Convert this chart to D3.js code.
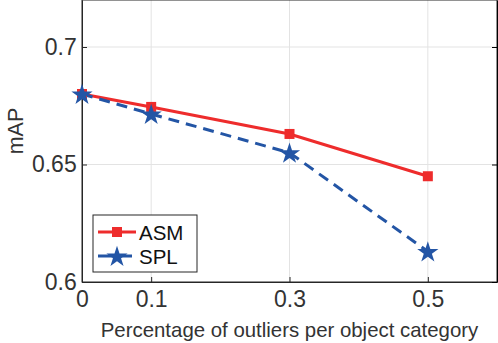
<!DOCTYPE html>
<html>
<head>
<meta charset="utf-8">
<script src="https://cdn.jsdelivr.net/npm/d3@7"></script>
<style>
  body { margin: 0; background: #fff; }
  text { font-family: "Liberation Sans", Arial, sans-serif; }
</style>
</head>
<body>
<div id="chart"></div>
<script>
// outlier ratio along x
var outlierRatio = [0, 0.1, 0.3, 0.5];
var asmValues = [0.680, 0.6745, 0.663, 0.645];
var splValues = [0.680, 0.6715, 0.655, 0.613];
var xTicks = [0, 0.1, 0.3, 0.5];
var yTicks = [0.6, 0.65, 0.7];

var width = 498, height = 343;
var margin = { top: 0, right: 1, bottom: 61, left: 82 };
var ink = "#333";

var svg = d3.select("#chart").append("svg")
  .attr("width", width).attr("height", height);

var x = d3.scaleLinear().domain([0, 0.6]).range([margin.left, width - margin.right]);
var y = d3.scaleLinear().domain([0.6, 0.72]).range([height - margin.bottom, margin.top]);

// grid
svg.append("g").selectAll("line.vg").data(xTicks.slice(1)).enter().append("line")
  .attr("x1", d => x(d)).attr("x2", d => x(d))
  .attr("y1", y(0.6)).attr("y2", y(0.72))
  .attr("stroke", "#e3e3e3").attr("stroke-width", 1);
svg.append("g").selectAll("line.hg").data(yTicks.slice(1)).enter().append("line")
  .attr("x1", x(0)).attr("x2", x(0.6))
  .attr("y1", d => y(d)).attr("y2", d => y(d))
  .attr("stroke", "#e3e3e3").attr("stroke-width", 1);

// box
svg.append("rect")
  .attr("x", x(0)).attr("y", y(0.72))
  .attr("width", x(0.6) - x(0)).attr("height", y(0.6) - y(0.72))
  .attr("fill", "none").attr("stroke", "#262626").attr("stroke-width", 1);

var xAxis = svg.append("g")
  .attr("transform", "translate(0," + y(0.6) + ")")
  .call(d3.axisBottom(x).tickValues(xTicks).tickSizeInner(-5).tickSizeOuter(0).tickFormat(d3.format("")));
var yAxis = svg.append("g")
  .attr("transform", "translate(" + x(0) + ",0)")
  .call(d3.axisLeft(y).tickValues(yTicks).tickSizeInner(-5).tickSizeOuter(0).tickFormat(d3.format("")));
svg.append("g")
  .attr("transform", "translate(" + x(0.6) + ",0)")
  .call(d3.axisRight(y).tickValues(yTicks).tickSizeInner(-5).tickSizeOuter(0).tickFormat(""));

[xAxis, yAxis].forEach(function(a) {
  a.select(".domain").attr("stroke", "#262626");
  a.selectAll(".tick line").attr("stroke", "#262626");
  a.selectAll(".tick text").attr("fill", ink).attr("font-size", 23);
});
xAxis.selectAll(".tick text").attr("dy", "0.95em");
yAxis.selectAll(".tick text").attr("dx", "-0.1em");

svg.append("text")
  .attr("x", (x(0) + x(0.6)) / 2).attr("y", 337)
  .attr("text-anchor", "middle").attr("font-size", 20.4).attr("fill", ink)
  .text("Percentage of outliers per object category");
svg.append("text")
  .attr("transform", "translate(23,131) rotate(-90)")
  .attr("text-anchor", "middle").attr("font-size", 21.5).attr("fill", ink)
  .text("mAP");

var line = d3.line().x((d, i) => x(outlierRatio[i])).y(d => y(d));
var red = "#ee2c2c", blue = "#2355a5";
var star = d3.symbol().type(d3.symbolStar).size(140);

svg.append("path").datum(asmValues).attr("d", line)
  .attr("fill", "none").attr("stroke", red).attr("stroke-width", 3);
svg.append("path").datum(splValues).attr("d", line)
  .attr("fill", "none").attr("stroke", blue).attr("stroke-width", 3)
  .attr("stroke-dasharray", "11,7");

svg.selectAll("rect.asm").data(asmValues).enter().append("rect")
  .attr("x", (d, i) => x(outlierRatio[i]) - 5).attr("y", d => y(d) - 5)
  .attr("width", 10).attr("height", 10).attr("fill", red);
svg.selectAll("path.spl").data(splValues).enter().append("path")
  .attr("d", star)
  .attr("transform", (d, i) => "translate(" + x(outlierRatio[i]) + "," + (y(d) + 1) + ")")
  .attr("fill", blue);

// legend
var lg = svg.append("g").attr("transform", "translate(93,215)");
lg.append("rect").attr("width", 104).attr("height", 57)
  .attr("fill", "#fff").attr("stroke", "#262626").attr("stroke-width", 1);
lg.append("line").attr("x1", 5).attr("x2", 43).attr("y1", 17).attr("y2", 17)
  .attr("stroke", red).attr("stroke-width", 3);
lg.append("rect").attr("x", 19).attr("y", 12).attr("width", 10).attr("height", 10).attr("fill", red);
lg.append("line").attr("x1", 5).attr("x2", 43).attr("y1", 41).attr("y2", 41)
  .attr("stroke", blue).attr("stroke-width", 3).attr("stroke-dasharray", "14,6");
lg.append("path").attr("d", star).attr("transform", "translate(24,42)").attr("fill", blue);
lg.append("text").attr("x", 46).attr("y", 25).attr("font-size", 20.5).attr("fill", "#111").text("ASM");
lg.append("text").attr("x", 46).attr("y", 49).attr("font-size", 20.5).attr("fill", "#111").text("SPL");
</script>
</body>
</html>
